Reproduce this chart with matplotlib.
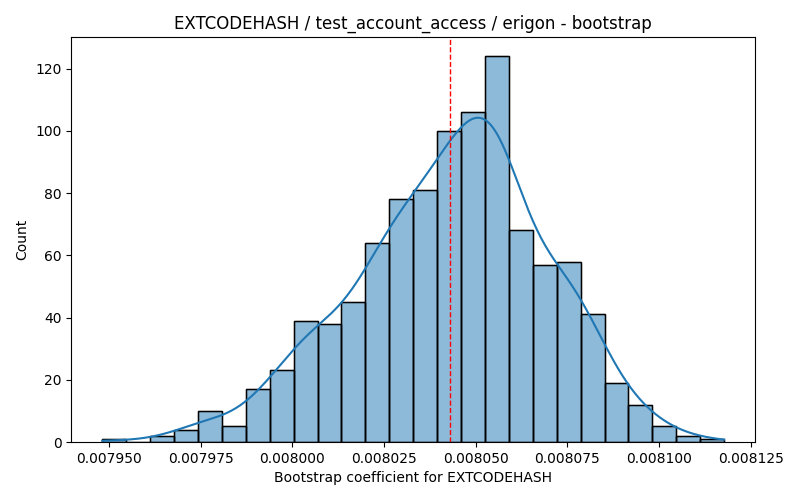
import matplotlib
matplotlib.use("Agg")
import matplotlib.pyplot as plt
import numpy as np

# histogram (26 bins)
bin_start = 0.0079482
bin_width = 6.52e-6
counts = [1, 0, 2, 4, 10, 5, 17, 23, 39, 38, 45, 64, 78, 81,
          100, 106, 124, 68, 57, 58, 41, 19, 12, 5, 2, 1]
observed = 0.00804295

title = "EXTCODEHASH / test_account_access / erigon - bootstrap"
xlabel = "Bootstrap coefficient for EXTCODEHASH"
ylabel = "Count"

counts = np.array(counts, dtype=float)
edges = bin_start + bin_width * np.arange(len(counts) + 1)
centers = (edges[:-1] + edges[1:]) / 2
n = counts.sum()

# gaussian kde on the binned sample, scott bandwidth for the full sample size
mean = np.sum(centers * counts) / n
sd = np.sqrt(np.sum(counts * (centers - mean) ** 2) / (n - 1))
bw = 1.08 * sd * n ** (-1 / 5)
grid = np.linspace(edges[0], edges[-1], 300)
dens = np.array([np.sum(counts * np.exp(-0.5 * ((g - centers) / bw) ** 2)) for g in grid])
dens = dens / (n * bw * np.sqrt(2 * np.pi))
kde_counts = dens * n * bin_width

fig, ax = plt.subplots(figsize=(8, 5), dpi=100)
fig.subplots_adjust(left=0.089, right=0.944, top=0.926, bottom=0.116)

ax.bar(edges[:-1], counts, width=bin_width, align="edge",
       color="#1f77b4", alpha=0.5, edgecolor="black", linewidth=1)
# redraw edges fully opaque
ax.bar(edges[:-1], counts, width=bin_width, align="edge",
       fill=False, edgecolor="black", linewidth=1)
ax.plot(grid, kde_counts, color="#1f77b4", linewidth=1.5)
ax.axvline(observed, color="red", linestyle="--", linewidth=1)

ax.set_title(title)
ax.set_xlabel(xlabel)
ax.set_ylabel(ylabel)

fig.savefig("out.png")
